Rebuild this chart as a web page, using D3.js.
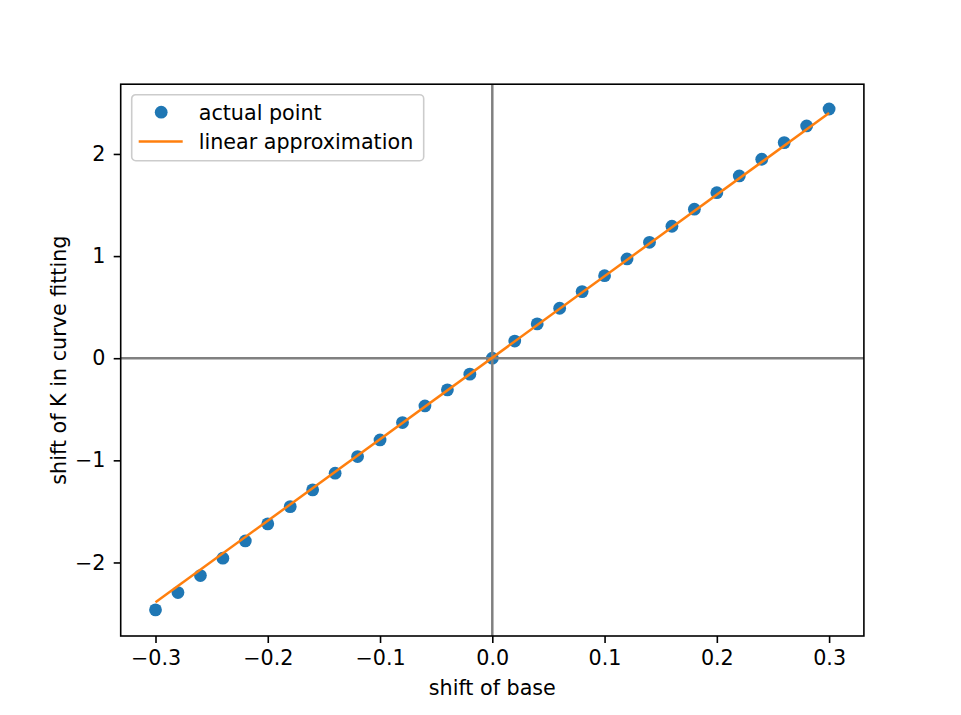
<!DOCTYPE html>
<meta charset="utf-8">
<style>
body { margin: 0; background: #fff; }
text { font-family: "DejaVu Sans", sans-serif; }
</style>
<body>
<svg id="chart" width="961" height="715"></svg>
</body>
<script src="https://d3js.org/d3.v7.min.js"></script>
<script>

// shift of base (x) and measured shift of K (y)
var baseShift = [-0.30, -0.28, -0.26, -0.24, -0.22, -0.20, -0.18, -0.16, -0.14, -0.12, -0.10,
                 -0.08, -0.06, -0.04, -0.02, 0.00, 0.02, 0.04, 0.06, 0.08, 0.10,
                 0.12, 0.14, 0.16, 0.18, 0.20, 0.22, 0.24, 0.26, 0.28, 0.30];
var kShift = [-2.464, -2.295, -2.128, -1.958, -1.789, -1.622, -1.453, -1.289, -1.126, -0.963, -0.800,
              -0.630, -0.467, -0.310, -0.156, 0.000, 0.168, 0.336, 0.489, 0.652, 0.808,
              0.972, 1.135, 1.292, 1.459, 1.621, 1.785, 1.948, 2.111, 2.274, 2.440];

// linear approximation endpoints
var lineX = [-0.30, 0.30];
var lineY = [-2.39, 2.40];

var xTicks = [-0.3, -0.2, -0.1, 0.0, 0.1, 0.2, 0.3];
var yTicks = [-2, -1, 0, 1, 2];

var svg = d3.select("#chart"),
    margin = {top: 84.2, right: 97.1, bottom: 79, left: 120.7},
    width = +svg.attr("width") - margin.left - margin.right,
    height = +svg.attr("height") - margin.top - margin.bottom,
    g = svg.append("g").attr("transform", "translate(" + margin.left + "," + margin.top + ")");

var fs = 20.7;

var x = d3.scaleLinear().domain([-0.331, 0.331]).range([0, width]);
var y = d3.scaleLinear().domain([-2.72, 2.683]).range([height, 0]);

var points = baseShift.map(function(d, i) { return [d, kShift[i]]; });
var approx = lineX.map(function(d, i) { return [d, lineY[i]]; });

// points
g.append("g").selectAll("circle")
  .data(points)
  .enter().append("circle")
    .attr("cx", function(d) { return x(d[0]); })
    .attr("cy", function(d) { return y(d[1]); })
    .attr("r", 6.4)
    .attr("fill", "#1f77b4");

// zero lines
g.append("line")
  .attr("x1", 0).attr("x2", width)
  .attr("y1", y(0)).attr("y2", y(0))
  .attr("stroke", "#808080").attr("stroke-width", 2.5);
g.append("line")
  .attr("x1", x(0)).attr("x2", x(0))
  .attr("y1", 0).attr("y2", height)
  .attr("stroke", "#808080").attr("stroke-width", 2.5);

// linear approximation
g.append("path")
  .datum(approx)
  .attr("fill", "none")
  .attr("stroke", "#ff7f0e")
  .attr("stroke-width", 2.5)
  .attr("d", d3.line().x(function(d) { return x(d[0]); }).y(function(d) { return y(d[1]); }));

// axes
var xAxis = g.append("g")
    .attr("transform", "translate(0," + height + ")")
    .call(d3.axisBottom(x).tickValues(xTicks).tickFormat(d3.format(".1f")).tickSizeInner(7).tickSizeOuter(0).tickPadding(7.7));
var yAxis = g.append("g")
    .call(d3.axisLeft(y).tickValues(yTicks).tickFormat(d3.format("d")).tickSizeInner(7).tickSizeOuter(0).tickPadding(8.3));

[xAxis, yAxis].forEach(function(a) {
  a.select(".domain").remove();
  a.selectAll("line").attr("stroke", "#000").attr("stroke-width", 1.6);
  a.selectAll("text").attr("fill", "#000").style("font-size", fs + "px").style("font-family", "'DejaVu Sans'");
});

// frame
g.append("rect")
  .attr("width", width).attr("height", height)
  .attr("fill", "none").attr("stroke", "#000").attr("stroke-width", 1.6);

// axis labels
svg.append("text")
  .attr("x", margin.left + width / 2)
  .attr("y", 695)
  .attr("text-anchor", "middle")
  .style("font-size", fs + "px")
  .text("shift of base");

svg.append("text")
  .attr("transform", "translate(66," + (margin.top + height / 2) + ") rotate(-90)")
  .attr("text-anchor", "middle")
  .style("font-size", fs + "px")
  .text("shift of K in curve fitting");

// legend
var legend = g.append("g").attr("transform", "translate(11,10.5)");
legend.append("rect")
  .attr("width", 292).attr("height", 66).attr("rx", 4)
  .attr("fill", "#fff").attr("fill-opacity", 0.8)
  .attr("stroke", "#cccccc").attr("stroke-width", 1.6);
legend.append("circle")
  .attr("cx", 29.5).attr("cy", 17.5).attr("r", 6.4).attr("fill", "#1f77b4");
legend.append("line")
  .attr("x1", 7).attr("x2", 51).attr("y1", 46.8).attr("y2", 46.8)
  .attr("stroke", "#ff7f0e").attr("stroke-width", 2.5);
legend.selectAll(".lbl")
  .data(["actual point", "linear approximation"])
  .enter().append("text")
    .attr("class", "lbl")
    .attr("x", 67)
    .attr("y", function(d, i) { return 17.5 + i * 29.5; })
    .attr("dy", "0.36em")
    .style("font-size", fs + "px")
    .text(function(d) { return d; });

</script>
